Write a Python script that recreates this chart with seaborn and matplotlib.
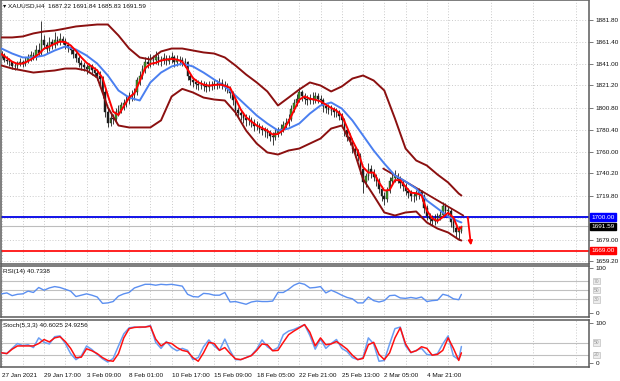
import numpy as np
import pandas as pd
import matplotlib
matplotlib.use("Agg")
import matplotlib.pyplot as plt
import matplotlib.transforms as mtrans
import seaborn as sns

# ---------------- data ----------------
open_first = 1850.0
close = [
    1848.7, 1845.0, 1843.5, 1842.3, 1839.0, 1838.6, 1841.0, 1842.3, 1840.5, 1844.0,
    1846.0, 1849.5, 1847.0, 1853.3, 1851.0, 1862.5, 1858.0, 1855.0, 1860.7, 1858.5,
    1862.5, 1861.0, 1864.3, 1862.0, 1858.0, 1856.0, 1853.3, 1850.0, 1846.0, 1842.0,
    1839.5, 1838.0, 1836.7, 1838.6, 1835.0, 1833.0, 1830.0, 1827.5, 1814.7, 1796.3,
    1787.0, 1791.0, 1790.7, 1796.3, 1799.0, 1802.7, 1805.0, 1807.3, 1811.0, 1812.5,
    1814.7, 1825.7, 1830.0, 1836.7, 1842.3, 1841.0, 1844.1, 1845.0, 1846.9, 1843.5,
    1844.1, 1846.5, 1844.0, 1845.5, 1846.9, 1842.3, 1845.0, 1844.1, 1843.0, 1842.3,
    1829.4, 1826.0, 1823.9, 1822.5, 1821.1, 1822.0, 1820.5, 1819.3, 1821.0, 1821.1,
    1822.5, 1822.0, 1823.5, 1822.0, 1820.0, 1818.3, 1814.0, 1807.3, 1798.1, 1796.0,
    1793.5, 1791.0, 1788.9, 1789.5, 1787.0, 1783.4, 1784.0, 1781.5, 1780.0, 1778.8,
    1777.5, 1775.1, 1773.3, 1777.6, 1779.0, 1781.5, 1784.3, 1787.0, 1790.7, 1799.9,
    1805.0, 1809.1, 1814.7, 1811.0, 1808.5, 1807.3, 1809.1, 1808.0, 1811.0, 1809.0,
    1807.3, 1801.8, 1800.0, 1799.0, 1798.1, 1796.3, 1796.3, 1793.0, 1788.9, 1779.7,
    1774.0, 1770.5, 1763.1, 1760.0, 1756.7, 1744.7, 1731.9, 1737.4, 1744.7, 1741.0,
    1737.0, 1733.7, 1726.3, 1719.9, 1717.1, 1724.5, 1733.7, 1736.0, 1738.3, 1735.5,
    1731.0, 1728.2, 1724.5, 1722.0, 1719.9, 1719.0, 1721.0, 1722.7, 1719.0, 1708.0,
    1700.6, 1698.0, 1696.9, 1698.7, 1700.0, 1702.4, 1710.7, 1706.0, 1706.1, 1695.1,
    1690.0, 1685.9, 1687.22, 1691.59,
]
high = [
    1853, 1851, 1848, 1846, 1844, 1842, 1844, 1846, 1845, 1847,
    1850, 1853, 1852, 1858, 1860, 1880, 1868, 1861, 1866, 1864,
    1870, 1867, 1869, 1867, 1865, 1861, 1858, 1856, 1852, 1849,
    1845, 1843, 1841, 1842, 1841, 1838, 1836, 1834, 1830, 1818,
    1800, 1795, 1795, 1800, 1803, 1806, 1809, 1812, 1815, 1817,
    1819, 1829, 1834, 1840, 1847, 1848, 1850, 1849, 1853, 1850,
    1848, 1851, 1849, 1849, 1852, 1849, 1849, 1848, 1847, 1846,
    1844, 1832, 1829, 1827, 1826, 1826, 1825, 1824, 1825, 1825,
    1827, 1826, 1828, 1827, 1825, 1823, 1821, 1816, 1810, 1801,
    1799, 1797, 1795, 1794, 1792, 1790, 1788, 1787, 1785, 1783,
    1782, 1780, 1778, 1781, 1783, 1786, 1788, 1791, 1795, 1803,
    1809, 1813, 1820, 1817, 1814, 1812, 1813, 1815, 1815, 1814,
    1812, 1810, 1805, 1804, 1803, 1801, 1800, 1799, 1796, 1791,
    1782, 1777, 1773, 1766, 1763, 1759, 1747, 1741, 1750, 1748,
    1744, 1740, 1736, 1729, 1723, 1728, 1737, 1741, 1743, 1741,
    1738, 1734, 1731, 1727, 1725, 1723, 1725, 1727, 1725, 1721,
    1711, 1704, 1702, 1703, 1704, 1706, 1714, 1713, 1710, 1708,
    1698, 1693, 1692, 1691.84,
]
low = [
    1846, 1843, 1841, 1839, 1836, 1835, 1836, 1839, 1838, 1839,
    1842, 1844, 1845, 1845, 1848, 1849, 1855, 1851, 1853, 1855,
    1856, 1858, 1858, 1859, 1855, 1852, 1850, 1846, 1843, 1838,
    1835, 1834, 1832, 1834, 1831, 1829, 1826, 1822, 1810, 1792,
    1783, 1784, 1786, 1788, 1793, 1796, 1799, 1801, 1804, 1807,
    1808, 1812, 1822, 1827, 1833, 1837, 1838, 1840, 1841, 1840,
    1839, 1841, 1840, 1841, 1842, 1838, 1839, 1840, 1839, 1838,
    1826, 1822, 1820, 1818, 1817, 1818, 1816, 1815, 1816, 1817,
    1818, 1818, 1819, 1818, 1816, 1814, 1810, 1803, 1794, 1792,
    1789, 1787, 1784, 1785, 1783, 1779, 1780, 1777, 1776, 1774,
    1773, 1770, 1766, 1771, 1774, 1776, 1778, 1781, 1784, 1788,
    1797, 1802, 1806, 1807, 1804, 1803, 1804, 1804, 1805, 1805,
    1803, 1797, 1796, 1795, 1794, 1792, 1792, 1789, 1784, 1775,
    1770, 1766, 1759, 1755, 1752, 1740, 1722, 1728, 1734, 1736,
    1733, 1729, 1722, 1715, 1711, 1714, 1722, 1730, 1732, 1731,
    1727, 1724, 1720, 1718, 1715, 1714, 1716, 1717, 1715, 1704,
    1697, 1694, 1692, 1693, 1695, 1697, 1700, 1702, 1701, 1691,
    1686, 1681, 1679, 1685.83,
]

# bands and slow MA: every 4th bar plus the last bar
band_idx = list(range(0, 173, 4)) + [173]
upper_band = [
    1865.3, 1865.3, 1866.2, 1869.0, 1870.8, 1871.7, 1873.5, 1875.4, 1876.3, 1877.2,
    1877.2, 1867.1, 1855.1, 1846.9, 1845.0, 1852.4, 1855.1, 1855.1, 1853.3, 1851.5,
    1850.5, 1846.9, 1839.5, 1831.2, 1823.9, 1815.6, 1802.7, 1810.0, 1817.4, 1823.9,
    1821.1, 1815.6, 1820.2, 1827.5, 1830.3, 1825.7, 1816.5, 1790.7, 1763.1, 1752.1,
    1747.5, 1739.2, 1731.9, 1721.7, 1719.9,
]
lower_band = [
    1839.5, 1836.7, 1834.9, 1833.0, 1834.0, 1834.9, 1836.7, 1836.7, 1834.9, 1828.5,
    1800.9, 1784.3, 1782.5, 1782.5, 1782.5, 1789.0, 1811.0, 1818.0, 1814.7, 1810.0,
    1808.2, 1807.3, 1796.3, 1779.7, 1767.7, 1759.5, 1757.6, 1761.3, 1763.1, 1767.7,
    1772.3, 1781.5, 1784.3, 1765.9, 1735.0, 1719.9, 1704.3, 1701.5, 1704.3, 1705.2,
    1695.1, 1689.5, 1685.9, 1679.4, 1678.5,
]
slow_ma = [
    1855.1, 1850.5, 1846.9, 1846.9, 1848.7, 1853.3, 1857.0, 1854.2, 1848.7, 1841.3,
    1830.3, 1816.5, 1810.0, 1807.3, 1823.9, 1833.0, 1838.6, 1841.3, 1838.6, 1833.0,
    1826.6, 1820.2, 1811.9, 1802.7, 1793.5, 1786.1, 1779.7, 1781.5, 1786.1, 1795.3,
    1802.7, 1805.5, 1799.9, 1788.9, 1775.1, 1761.3, 1749.3, 1738.3, 1732.8, 1726.3,
    1715.3, 1708.0, 1700.6, 1696.0, 1695.1,
]

# descending trend line drawn over the last highs
trend_bars = [143.6, 173.7]
trend_prices = [1744.7, 1701.5]

# fast MA and oscillators: every 2nd bar plus the last bar
osc_idx = list(range(0, 173, 2)) + [173]
fast_ma = [
    1850, 1846.5, 1843, 1841, 1841.3, 1843.5, 1846.5, 1850, 1855, 1857,
    1859.5, 1861.5, 1861, 1858, 1853, 1847, 1842, 1838.5, 1835, 1828,
    1812, 1797, 1794, 1802, 1810, 1814, 1825, 1837, 1841, 1842,
    1844, 1845, 1845.5, 1845, 1843, 1836, 1828, 1824, 1822, 1821,
    1821.5, 1822, 1821, 1819, 1809, 1799, 1792, 1788, 1784.3, 1782,
    1779.5, 1776, 1776.5, 1780, 1788, 1798, 1808, 1811, 1809, 1808,
    1806.5, 1803.5, 1800.5, 1798, 1793.5, 1782.5, 1770.5, 1761, 1746, 1741,
    1741, 1732, 1724.5, 1725, 1734, 1734, 1728, 1722.5, 1722, 1720,
    1706, 1699, 1696.5, 1700, 1704, 1699.5, 1688, 1691,
]
rsi = [
    42, 44, 38, 41, 42, 48, 45, 56, 50, 55,
    58, 56, 52, 48, 36, 39, 42, 39, 35, 21,
    22, 25, 37, 42, 45, 55, 59, 63, 63, 61,
    63, 62, 63, 61, 59, 41, 36, 35, 43, 42,
    39, 39, 45, 24, 25, 22, 19, 24, 26, 25,
    25, 26, 45, 45, 52, 61, 66, 63, 55, 56,
    58, 44, 50, 45, 39, 34, 31, 22, 22, 35,
    27, 24, 27, 38, 39, 33, 32, 34, 32, 35,
    25, 27, 28, 41, 38, 31, 29, 40.7338,
]
stoch_main = [
    25, 23, 36, 48, 43, 45, 38, 62, 51, 47,
    65, 67, 48, 23, 8, 17, 42, 33, 21, 10,
    2, 11, 42, 72, 87, 89, 88, 89, 93, 51,
    36, 53, 38, 30, 36, 31, 8, 13, 40, 57,
    42, 31, 59, 30, 8, 8, 13, 19, 34, 57,
    40, 31, 38, 70, 79, 83, 89, 95, 68, 34,
    59, 36, 48, 58, 36, 28, 13, 8, 13, 62,
    47, 4, 6, 47, 85, 89, 42, 25, 31, 36,
    21, 19, 23, 47, 67, 17, 8, 40.6025,
]
stoch_signal = [
    25, 23, 34, 42, 42, 42, 42, 48, 58, 52,
    62, 65, 53, 36, 13, 14, 35, 30, 23, 13,
    6, 4, 23, 62, 85, 88, 89, 89, 91, 59,
    42, 51, 48, 38, 31, 28, 13, 4, 25, 51,
    48, 31, 38, 23, 10, 8, 13, 18, 31, 47,
    45, 30, 31, 51, 70, 79, 87, 95, 76, 42,
    62, 45, 47, 53, 44, 34, 19, 8, 11, 45,
    51, 21, 8, 25, 62, 87, 47, 26, 30, 40,
    36, 19, 21, 31, 62, 36, 6, 24.9256,
]

price_ticks = [1881.80, 1861.40, 1841.00, 1821.20, 1800.80, 1780.40, 1760.00,
               1740.20, 1719.80, 1699.40, 1679.00, 1659.20]
hidden_tick = 1699.40   # grid line only, its label sits under the 1700.00 box
date_idx = [0, 16, 32, 48, 64, 80, 96, 112, 128, 144, 160]
date_labels = ["27 Jan 2021", "29 Jan 17:00", "3 Feb 09:00", "8 Feb 01:00",
               "10 Feb 17:00", "15 Feb 09:00", "18 Feb 05:00", "22 Feb 21:00",
               "25 Feb 13:00", "2 Mar 05:00", "4 Mar 21:00"]
resistance = 1700.00
support = 1669.00
last_price = 1691.59
arrow_from = (175.4, 1700.0)
arrow_to = (176.6, 1674.0)
rsi_levels = [70, 50, 30]
stoch_levels = [50, 20]
title = "\u25be XAUUSD,H4  1687.22 1691.84 1685.83 1691.59"
rsi_title = "RSI(14) 40.7338"
stoch_title = "Stoch(5,3,3) 40.6025 24.9256"

# ---------------- figure ----------------
sns.set_theme(style="white")
plt.rcParams["font.family"] = ["Liberation Sans", "DejaVu Sans"]
FS = 4.6

W, H = 620, 381
fig = plt.figure(figsize=(6.2, 3.81), dpi=100)
fig.patch.set_facecolor("white")


def rect(x0, y0, x1, y1):
    return [x0 / W, 1 - y1 / H, (x1 - x0) / W, (y1 - y0) / H]


ax = fig.add_axes(rect(0.5, 0.5, 589, 263.5))
ax_rsi = fig.add_axes(rect(0.5, 265.5, 589, 317), sharex=ax)
ax_st = fig.add_axes(rect(0.5, 319.5, 589, 367), sharex=ax)

XMIN, XMAX = -0.38, 221.0
ax.set_xlim(XMIN, XMAX)
ax.set_ylim(1657.36, 1899.28)
ax_rsi.set_ylim(-9.1, 104.5)
ax_st.set_ylim(-10.3, 107.7)

grid_kw = dict(color="#c4c4c4", lw=0.6, ls=(0, (1.2, 2.2)))
for a in (ax, ax_rsi, ax_st):
    a.set_facecolor("white")
    a.set_xticks(date_idx)
    a.set_xticks(list(range(8, 221, 16)), minor=True)
    a.grid(True, which="both", axis="x", **grid_kw)
    for s in a.spines.values():
        s.set_color("#5a5a5a")
        s.set_linewidth(1.1)
    a.yaxis.tick_right()
    a.tick_params(axis="y", which="both", length=3, width=0.5, color="#444444",
                  labelsize=FS, pad=2, labelcolor="#111111")
    a.tick_params(axis="x", which="minor", length=0)
    a.set_axisbelow(True)

ax.set_yticks(price_ticks)
ax.set_yticklabels(["" if v == hidden_tick else f"{v:.2f}" for v in price_ticks])
ax.grid(True, axis="y", **grid_kw)
ax.tick_params(axis="x", which="major", length=0, labelbottom=False)
ax_rsi.tick_params(axis="x", which="major", length=0, labelbottom=False)

# candles
o = np.array([open_first] + close[:-1])
c = np.array(close)
hi = np.array(high)
lo = np.array(low)
xi = np.arange(len(c))
up = c >= o
ax.vlines(xi, lo, hi, color="#1c1c1c", lw=0.6, zorder=3)
ax.bar(xi[up], np.maximum(c - o, 0.4)[up], bottom=o[up], width=0.62,
       color="#3f9f22", edgecolor="#1c1c1c", linewidth=0.3, zorder=4)
ax.bar(xi[~up], np.maximum(o - c, 0.4)[~up], bottom=c[~up], width=0.62,
       color="#1c1c1c", edgecolor="#1c1c1c", linewidth=0.3, zorder=4)

# reference lines
ax.axhline(last_price, color="#bdbdbd", lw=0.8, zorder=2)
ax.axhline(resistance, color="#0000e6", lw=1.3, zorder=2)
ax.axhline(support, color="#ff1010", lw=1.3, zorder=2)

# indicators
bands = pd.DataFrame({"bar": band_idx, "upper": upper_band, "lower": lower_band,
                      "slow": slow_ma})
fast = pd.DataFrame({"bar": osc_idx, "fast": fast_ma})
trend = pd.DataFrame({"bar": trend_bars, "price": trend_prices})
sns.lineplot(data=bands, x="bar", y="upper", ax=ax, color="#8b1010", lw=1.4, zorder=5)
sns.lineplot(data=bands, x="bar", y="lower", ax=ax, color="#8b1010", lw=1.4, zorder=5)
sns.lineplot(data=trend, x="bar", y="price", ax=ax, color="#8b1010", lw=1.3, zorder=5)
sns.lineplot(data=bands, x="bar", y="slow", ax=ax, color="#4a7ff0", lw=1.4, zorder=6)
sns.lineplot(data=fast, x="bar", y="fast", ax=ax, color="#ff0000", lw=1.4, zorder=7)
ax.set_xlabel("")
ax.set_ylabel("")

ax.annotate("", xy=arrow_to, xytext=arrow_from,
            arrowprops=dict(arrowstyle="-|>", color="#ff0000", lw=1.3,
                            mutation_scale=6, shrinkA=0, shrinkB=0), zorder=9)

# right-side price boxes
tr = mtrans.blended_transform_factory(ax.transAxes, ax.transData)
for val, fc in ((resistance, "#0000ff"), (last_price, "#000000"), (support, "#ff0000")):
    ax.text(1.004, val, f"{val:.2f}", transform=tr, ha="left", va="center",
            fontsize=FS, color="white", clip_on=False, zorder=10,
            bbox=dict(boxstyle="square,pad=0.18", fc=fc, ec=fc))

# RSI panel
osc = pd.DataFrame({"bar": osc_idx, "rsi": rsi, "k": stoch_main, "d": stoch_signal})
for lv in rsi_levels:
    ax_rsi.axhline(lv, color="#c0c0c0", lw=0.8, zorder=1)
sns.lineplot(data=osc, x="bar", y="rsi", ax=ax_rsi, color="#5b8ff0", lw=1.0, zorder=3)
ax_rsi.set_yticks([0, 100])
ax_rsi.set_yticklabels(["0", "100"])
ax_rsi.set_xlabel("")
ax_rsi.set_ylabel("")
tr_r = mtrans.blended_transform_factory(ax_rsi.transAxes, ax_rsi.transData)
for lv in rsi_levels:
    ax_rsi.text(1.008, lv, f"{lv}", transform=tr_r, ha="left", va="center",
                fontsize=3.6, color="#9a9a9a", clip_on=False,
                bbox=dict(boxstyle="square,pad=0.15", fc="#ececec", ec="#b4b4b4", lw=0.4))

# Stochastic panel
for lv in stoch_levels:
    ax_st.axhline(lv, color="#c0c0c0", lw=0.8, zorder=1)
sns.lineplot(data=osc, x="bar", y="k", ax=ax_st, color="#6a9ef2", lw=1.1, zorder=3)
sns.lineplot(data=osc, x="bar", y="d", ax=ax_st, color="#ff1010", lw=1.1, zorder=4)
ax_st.set_yticks([0, 100])
ax_st.set_yticklabels(["0", "100"])
ax_st.set_xlabel("")
ax_st.set_ylabel("")
tr_s = mtrans.blended_transform_factory(ax_st.transAxes, ax_st.transData)
for lv in stoch_levels:
    ax_st.text(1.008, lv, f"{lv}", transform=tr_s, ha="left", va="center",
               fontsize=3.6, color="#9a9a9a", clip_on=False,
               bbox=dict(boxstyle="square,pad=0.15", fc="#ececec", ec="#b4b4b4", lw=0.4))

ax_st.set_xticks(date_idx)
ax_st.set_xticklabels(date_labels, ha="left")
ax_st.tick_params(axis="x", which="major", length=3, width=0.5, color="#444444",
                  labelsize=FS, pad=1.5, labelcolor="#111111")
ax_st.set_xlim(XMIN, XMAX)

# panel captions
fig.text(3 / W, 1 - 6 / H, title, fontsize=FS, va="center", ha="left", color="#111111")
fig.text(3 / W, 1 - 272 / H, rsi_title, fontsize=FS, va="center", ha="left", color="#111111")
fig.text(3 / W, 1 - 326 / H, stoch_title, fontsize=FS, va="center", ha="left", color="#111111")

fig.savefig("out.png", dpi=100, facecolor="white")
